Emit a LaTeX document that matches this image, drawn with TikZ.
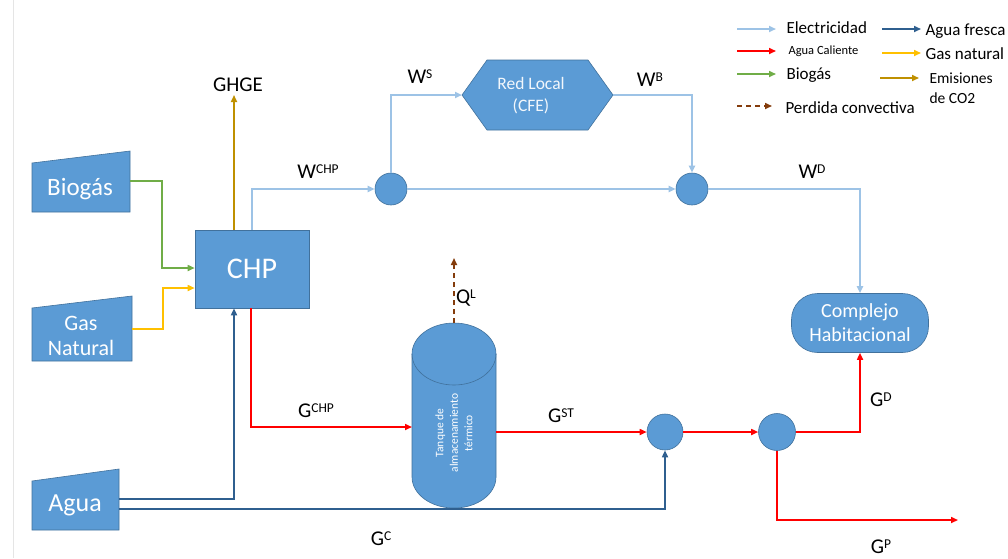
\documentclass[tikz,border=0pt]{standalone}
\usepackage{fontspec}
\setmainfont{Carlito}
\usetikzlibrary{arrows.meta}
\definecolor{boxblue}{HTML}{5B9BD5}
\definecolor{boxedge}{HTML}{41719C}
\definecolor{elec}{HTML}{9DC3E6}
\definecolor{fresh}{HTML}{2F5F8F}
\definecolor{hot}{HTML}{FF0000}
\definecolor{bio}{HTML}{70AD47}
\definecolor{gasc}{HTML}{FFC000}
\definecolor{emis}{HTML}{BF9000}
\definecolor{conv}{HTML}{843C0C}
\newcommand{\up}[1]{\raisebox{0.23em}{\fontsize{13.5}{14}\selectfont #1}}
\begin{document}
\begin{tikzpicture}[x=1pt,y=-1pt,
  tip/.style={-{Triangle[length=7pt,width=6pt]}},
  flow/.style={line width=1.6pt,tip},
  eflow/.style={flow,draw=elec,line width=2pt},
  hflow/.style={flow,draw=hot},
  fflow/.style={flow,draw=fresh},
  bflow/.style={flow,draw=bio},
  gflow/.style={flow,draw=gasc},
  mflow/.style={flow,draw=emis},
  cflow/.style={flow,draw=conv,dash pattern=on 5pt off 4pt},
  boxfill/.style={fill=boxblue,draw=boxedge,line width=0.6pt},
  box/.style={boxfill,text=white,inner sep=0pt},
  junction/.style={circle,boxfill,minimum size=32pt,inner sep=0pt},
  btext/.style={text=white,align=center},
  lbl/.style={font=\fontsize{21}{24}\selectfont,text=black},
  leg/.style={font=\fontsize{17}{20}\selectfont,anchor=west,text=black}
]
\useasboundingbox (0,0) rectangle (1008,558);
\fill[white] (0,0) rectangle (1008,558);
\draw[black!10,line width=0.5pt] (13,0) -- (13,558);

% input trapezoids
\filldraw[boxfill] (32,163) -- (130,151) -- (130,212) -- (32,212) -- cycle;
\node[btext,font=\fontsize{25}{28}\selectfont] (bio) at (80,189) {Biogás};
\coordinate (bioOut) at (130,181);
\filldraw[boxfill] (32,308) -- (132,296) -- (132,361) -- (32,361) -- cycle;
\node[btext,font=\fontsize{22}{25}\selectfont] (gas) at (81,336) {Gas\\Natural};
\coordinate (gasOut) at (132,329);
\filldraw[boxfill] (32,481) -- (119,469) -- (119,530) -- (32,530) -- cycle;
\node[btext,font=\fontsize{26}{28}\selectfont] (agua) at (75,505) {Agua};
\coordinate (aguaOut1) at (119,499);
\coordinate (aguaOut2) at (119,509);

% CHP
\node[box,minimum width=114pt,minimum height=78pt,font=\fontsize{30}{32}\selectfont] (chp) at (252,269) {CHP};

% Red Local hexagon
\filldraw[boxfill] (462,95) -- (487,60) -- (588,60) -- (613,95) -- (588,130) -- (487,130) -- cycle;
\node[btext,font=\fontsize{17.5}{22}\selectfont,text=white!92!boxblue] (rl) at (531,96) {Red Local\\(CFE)};
\coordinate (rlW) at (462,95);
\coordinate (rlE) at (613,95);

% junctions
\node[junction] (c1) at (391,189) {};
\node[junction] (c2) at (692,189) {};
\node[junction,minimum size=36pt] (c3) at (665,432) {};
\node[junction,minimum size=37pt] (c4) at (777,432) {};

% Complejo
\node[box,rounded corners=26pt,minimum width=137pt,minimum height=59pt,align=center,font=\fontsize{20}{24}\selectfont] (comp) at (860,323) {Complejo\\Habitacional};

% tank
\filldraw[boxfill] (412,354) -- (412,477) arc[start angle=180,end angle=360,x radius=42pt,y radius=31pt]
  -- (496,354) arc[start angle=0,end angle=180,x radius=42pt,y radius=31pt] -- cycle;
\draw[boxedge,line width=0.6pt] (412,354) arc[start angle=180,end angle=360,x radius=42pt,y radius=31pt];
\node[btext,rotate=90,font=\fontsize{11.5}{14.5}\selectfont] (tank) at (454,433) {Tanque de\\almacenamiento\\térmico};
\coordinate (tankW) at (412,427);
\coordinate (tankE) at (496,432);
\coordinate (tankTop) at (454,323);
\coordinate (qEnd) at (454,258);

% electricity
\draw[eflow] (chp.north) |- (c1);
\draw[eflow] (c1) -- (c2);
\draw[eflow] (c1.north) |- (rlW);
\draw[eflow] (rlE) -| (c2);
\draw[eflow] (c2) -| (comp.north);

% fuels
\draw[bflow] (bioOut) -| (162,268) -- ([yshift=1pt]chp.west);
\draw[gflow] (gasOut) -| (163,288) -- ([yshift=-19pt]chp.west);
\coordinate (ghgeEnd) at (234,95);
\draw[mflow] ([xshift=-18pt]chp.north) -- (ghgeEnd);

% fresh water
\draw[fflow] (aguaOut1) -| ([xshift=-18pt]chp.south);
\draw[fflow] (aguaOut2) -| (c3);

% hot water
\draw[hflow] ([xshift=-1pt]chp.south) |- (tankW);
\draw[hflow] (tankE) -- (c3);
\draw[hflow] (c3) -- (c4);
\draw[hflow] (c4) -| (comp.south);
\coordinate (gpEnd) at (958,520);
\draw[hflow] (c4) |- (gpEnd);

% convective loss
\draw[cflow] (tankTop) -- (qEnd);

% labels
\node[lbl] (lghge) at (238,85) {GHGE};
\node[lbl] (lwchp) at (318,172) {W\up{CHP}};
\node[lbl] (lws) at (420,77) {W\up{S}};
\node[lbl] (lwb) at (650,80) {W\up{B}};
\node[lbl] (lwd) at (812,172) {W\up{D}};
\node[lbl] (lql) at (466,298) {Q\up{L}};
\node[lbl] (lgchp) at (316,411) {G\up{CHP}};
\node[lbl] (lgst) at (561,416) {G\up{ST}};
\node[lbl] (lgd) at (881,400) {G\up{D}};
\node[lbl] (lgc) at (381,539) {G\up{C}};
\node[lbl] (lgp) at (881,547) {G\up{P}};

% legend
\draw[eflow] (737,29) -- (776,29);
\node[leg] (le1) at (783,28) {Electricidad};
\draw[hflow] (737,51) -- (776,51);
\node[leg,font=\fontsize{12.5}{14}\selectfont] (le2) at (785,51) {Agua Caliente};
\draw[bflow] (737,74) -- (776,74);
\node[leg] (le3) at (783,75) {Biogás};
\draw[cflow] (737,106) -- (772,106);
\node[leg] (le4) at (782,108) {Perdida convectiva};
\draw[fflow] (882,29) -- (921,29);
\node[leg] (le5) at (922,31) {Agua fresca};
\draw[gflow] (882,53) -- (921,53);
\node[leg] (le6) at (922,54) {Gas natural};
\draw[mflow] (880,78) -- (919,78);
\node[leg,font=\fontsize{15.5}{20}\selectfont,align=left] (le7) at (926,88) {Emisiones\\de CO2};
\end{tikzpicture}
\end{document}
